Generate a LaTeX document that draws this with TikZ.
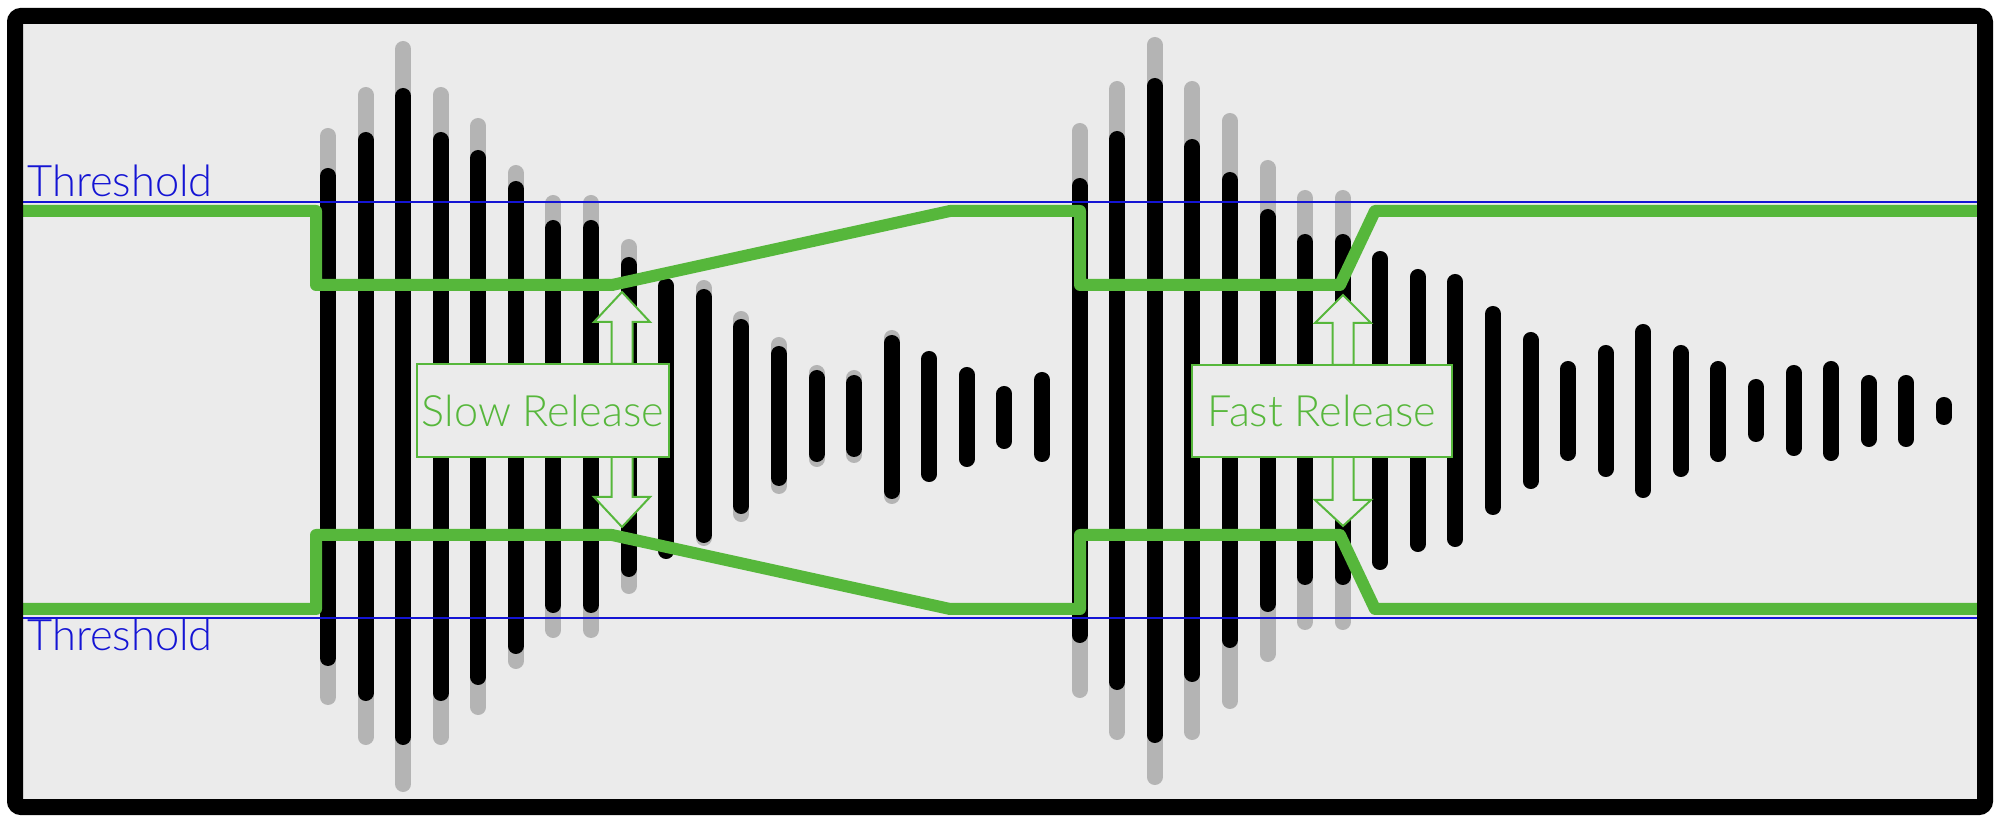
\documentclass[tikz,border=0pt]{standalone}
\usepackage{fontspec}
\setmainfont{Lato Light}
\definecolor{bgc}{HTML}{EBEBEB}
\definecolor{grayb}{HTML}{B4B4B4}
\definecolor{grn}{HTML}{56B73B}
\definecolor{blu}{HTML}{1414D4}
\tikzset{
  graybar/.style={line width=8pt, line cap=round, draw=grayb},
  blackbar/.style={line width=8pt, line cap=round, draw=black},
  thrline/.style={line width=1.4pt, draw=blu},
  thrtext/.style={text=blu, inner sep=0pt, font=\fontsize{21.7pt}{26pt}\selectfont},
  gainline/.style={line width=6pt, draw=grn, line join=round},
  relbox/.style={draw=grn, line width=1pt, fill=bgc, text=grn, inner sep=0pt,
    font=\fontsize{21.6pt}{26pt}\selectfont},
  relarrow/.style={draw=grn, line width=1pt, fill=bgc, line join=miter},
  frame/.style={draw=black, line width=8pt, rounded corners=3pt}
}
\newcommand{\relarrows}[7]{%
  \filldraw[relarrow] (#1-10.5,#4) -- (#1-10.5,#3) -- (#1-28,#3) -- (#1,#2) -- (#1+28,#3) -- (#1+10.5,#3) -- (#1+10.5,#4) -- cycle;
  \filldraw[relarrow] (#1-10.5,#5) -- (#1-10.5,#6) -- (#1-28,#6) -- (#1,#7) -- (#1+28,#6) -- (#1+10.5,#6) -- (#1+10.5,#5) -- cycle;
}
\begin{document}
\begin{tikzpicture}[x=0.5pt,y=-0.5pt]
\useasboundingbox (0,0) rectangle (1999,823);
\fill[white] (0,0) rectangle (1999,823);
\fill[bgc, rounded corners=3pt] (15,16) rectangle (1985,807);
% bars: index / gray top / black top / black bottom / gray bottom
\foreach \i/\gt/\bt/\bb/\gb in {
  0/128/168/666/705, 1/87/132/701/745, 2/41/88/745/792, 3/87/132/701/745,
  4/118/150/685/715, 5/165/181/654/669, 6/195/220/613/638, 7/195/220/613/638,
  8/239/257/577/594, 9/278/278/559/559, 10/280/289/543/546, 11/311/319/514/522,
  12/337/346/486/494, 13/365/370/462/467, 14/370/375/457/463, 15/330/335/499/504,
  16/351/351/482/482, 17/367/367/467/467, 18/386/386/449/449, 19/372/372/462/462,
  20/123/178/643/698, 21/81/131/690/740, 22/37/78/743/785, 23/81/139/682/740,
  24/113/172/648/709, 25/160/209/612/662, 26/190/234/585/630, 27/190/234/585/630,
  28/251/251/570/570, 29/269/269/552/552, 30/274/274/547/547, 31/306/306/515/515,
  32/332/332/489/489, 33/361/361/461/461, 34/345/345/477/477, 35/324/324/498/498,
  36/345/345/477/477, 37/361/361/462/462, 38/379/379/442/442, 39/365/365/456/456,
  40/361/361/461/461, 41/375/375/447/447, 42/375/375/447/447, 43/397/397/425/425} {
  \pgfmathsetmacro\xx{328+37.58*\i}
  \draw[graybar] (\xx,\gt+8) -- (\xx,\gb-8);
  \draw[blackbar] (\xx,\bt+8) -- (\xx,\bb-8);
}
% threshold lines
\coordinate (tl) at (15,202); \coordinate (tr) at (1985,202);
\coordinate (bl) at (15,618); \coordinate (br) at (1985,618);
\draw[thrline] (tl) -- (tr);
\draw[thrline] (bl) -- (br);
\node[thrtext, anchor=base west] (thrtop) at (27,197) {Threshold};
\node[thrtext, anchor=base west] (thrbot) at (27,651) {Threshold};
% gain envelopes
\draw[gainline] (15,211) -- (316,211) -- (316,285) -- (612,285) -- (950,211) -- (1080,211)
  -- (1080,285) -- (1340,285) -- (1375,211) -- (1985,211);
\draw[gainline] (15,609) -- (316,609) -- (316,535) -- (612,535) -- (950,609) -- (1080,609)
  -- (1080,535) -- (1340,535) -- (1375,609) -- (1985,609);
% release arrows and labels
\relarrows{622}{292}{322}{364}{457}{497}{527}
\relarrows{1343}{295}{323}{365}{457}{500}{526}
\node[relbox, minimum width=126pt, minimum height=46.5pt] (slow) at (543,410.5) {Slow Release};
\node[relbox, minimum width=130pt, minimum height=46pt] (fast) at (1322,411) {Fast Release};
% frame
\draw[frame] (15,16) rectangle (1985,807);
\end{tikzpicture}
\end{document}
